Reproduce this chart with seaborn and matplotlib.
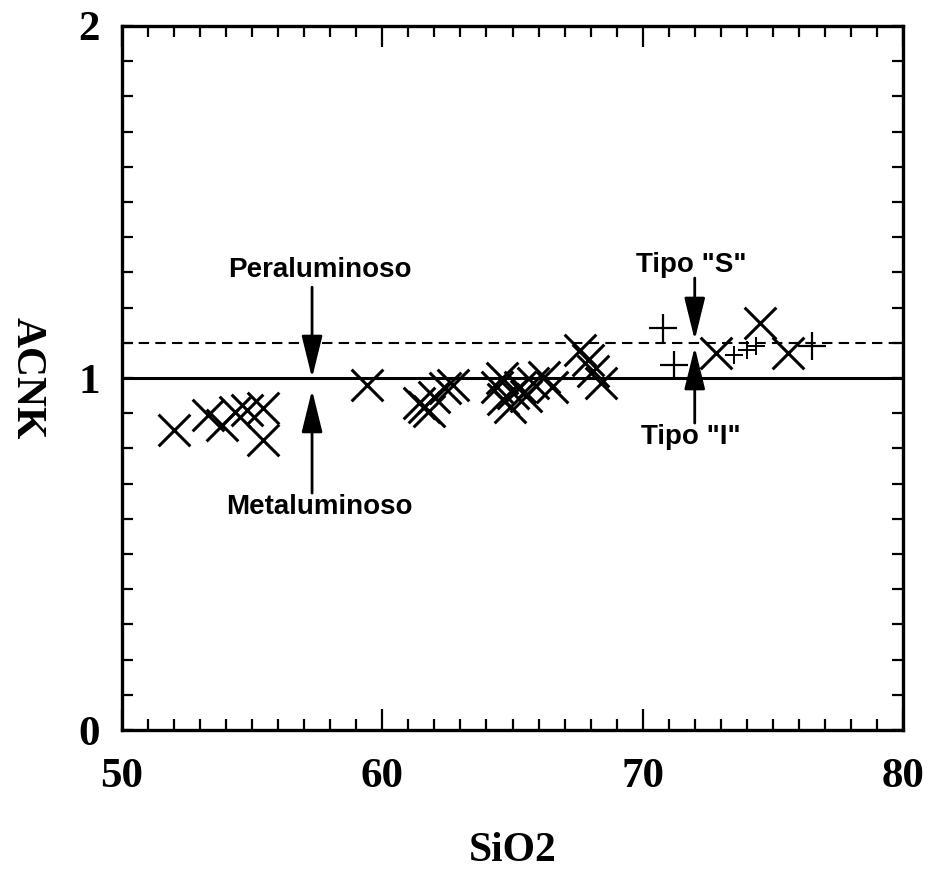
import matplotlib
matplotlib.use("Agg")
import matplotlib.pyplot as plt
from matplotlib.ticker import MultipleLocator
import seaborn as sns
import pandas as pd

# ---- data ----
x_sio2 = [52.0, 53.3, 53.85, 54.35, 54.8, 55.4, 55.4, 59.4,
          61.4, 61.6, 62.0, 62.4, 62.7, 61.8,
          64.4, 64.65, 65.0, 65.3, 64.9, 65.8, 66.2, 66.5, 65.5, 64.6,
          67.6, 67.9, 68.4, 68.1,
          72.8, 74.5, 75.6]
x_acnk = [0.852, 0.895, 0.866, 0.903, 0.91, 0.915, 0.824, 0.98,
          0.93, 0.918, 0.946, 0.972, 0.98, 0.905,
          0.974, 0.94, 0.957, 0.975, 0.918, 0.986, 1.003, 0.975, 0.95, 1.0,
          1.08, 1.05, 0.986, 1.02,
          1.07, 1.156, 1.07]

plus_big_sio2 = [70.8, 71.2, 76.5]
plus_big_acnk = [1.142, 1.037, 1.09]
plus_small_sio2 = [73.5, 74.0, 74.35]
plus_small_acnk = [1.065, 1.08, 1.09]

x_ticks = [50, 60, 70, 80]
y_ticks = [0, 1, 2]
line_solid = 1.0
line_dashed = 1.1

sns.set_theme(style="white")
plt.rcParams["font.family"] = ["Liberation Serif", "DejaVu Serif"]

fig = plt.figure(figsize=(9.3, 8.72), dpi=100)
ax = fig.add_axes([122/930, 1-730/872, (903-122)/930, (730-26)/872])

df_x = pd.DataFrame({"SiO2": x_sio2, "ACNK": x_acnk})
df_pb = pd.DataFrame({"SiO2": plus_big_sio2, "ACNK": plus_big_acnk})
df_ps = pd.DataFrame({"SiO2": plus_small_sio2, "ACNK": plus_small_acnk})

sns.scatterplot(data=df_x, x="SiO2", y="ACNK", marker="x", s=520,
                color="black", linewidth=2.2, ax=ax, zorder=3)
sns.scatterplot(data=df_pb, x="SiO2", y="ACNK", marker="+", s=420,
                color="black", linewidth=1.6, ax=ax, zorder=3)
sns.scatterplot(data=df_ps, x="SiO2", y="ACNK", marker="+", s=150,
                color="black", linewidth=1.4, ax=ax, zorder=3)

ax.axhline(line_solid, color="black", lw=2.2, zorder=2)
ax.axhline(line_dashed, color="black", lw=1.5, ls=(0, (5, 3)), zorder=2)

ax.set_xlim(50, 80)
ax.set_ylim(0, 2)
ax.set_xticks(x_ticks)
ax.set_yticks(y_ticks)
ax.set_xticklabels([str(v) for v in x_ticks])
ax.set_yticklabels([str(v) for v in y_ticks])
ax.xaxis.set_minor_locator(MultipleLocator(1))
ax.yaxis.set_minor_locator(MultipleLocator(0.1))

ax.tick_params(axis="both", which="both", direction="in", top=True, right=True,
               bottom=True, left=True, width=1.6, color="black")
ax.tick_params(axis="x", which="major", length=15, pad=20)
ax.tick_params(axis="x", which="minor", length=8)
ax.tick_params(axis="y", which="major", length=8, pad=16)
ax.tick_params(axis="y", which="minor", length=8)
for lab in ax.get_xticklabels() + ax.get_yticklabels():
    lab.set_fontsize(31)
    lab.set_fontweight("bold")
    lab.set_color("black")

for sp in ax.spines.values():
    sp.set_linewidth(2.4)
    sp.set_color("black")
    sp.set_visible(True)

ax.set_xlabel("SiO2", fontsize=30, fontweight="bold", color="black", va="center")
ax.set_ylabel("ACNK", fontsize=30, fontweight="bold", color="black", rotation=-90,
              va="center", ha="center")
ax.xaxis.set_label_coords(0.5, -0.172)
ax.yaxis.set_label_coords(-0.122, 0.5)

arrow_style = dict(arrowstyle="-|>,head_length=1.3,head_width=0.32",
                   color="black", lw=2.0, mutation_scale=20, shrinkA=0, shrinkB=0)
ann_font = dict(fontsize=20, fontweight="bold", family=["Liberation Sans", "DejaVu Sans"],
                ha="center", va="center", color="black")

ax.annotate("", xy=(57.3, 1.0), xytext=(57.3, 1.258), arrowprops=arrow_style)
ax.text(57.6, 1.307, "Peraluminoso", **ann_font)
ax.annotate("", xy=(57.3, 0.966), xytext=(57.3, 0.673), arrowprops=arrow_style)
ax.text(57.6, 0.634, "Metaluminoso", **ann_font)

ax.annotate("", xy=(72.0, 1.108), xytext=(72.0, 1.284), arrowprops=arrow_style)
ax.text(71.85, 1.321, 'Tipo "S"', **ann_font)
ax.annotate("", xy=(72.0, 1.088), xytext=(72.0, 0.872), arrowprops=arrow_style)
ax.text(71.85, 0.832, 'Tipo "I"', **ann_font)

fig.savefig("out.png", dpi=100, facecolor="white")
